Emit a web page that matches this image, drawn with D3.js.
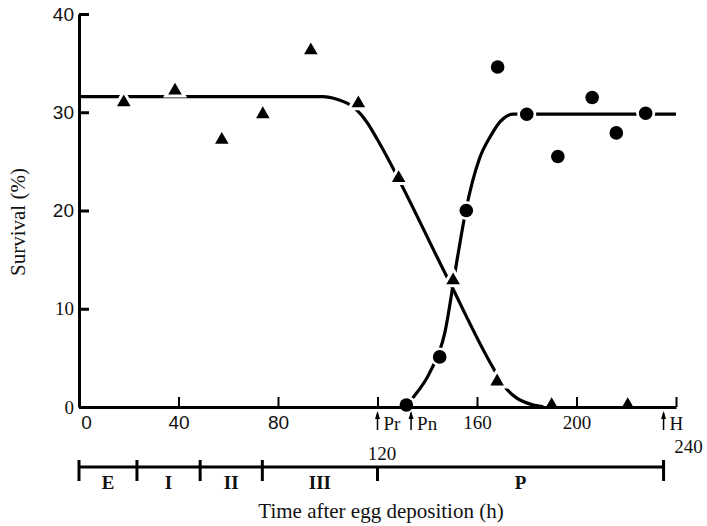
<!DOCTYPE html>
<html>
<head>
<meta charset="utf-8">
<script src="https://cdn.jsdelivr.net/npm/d3@7"></script>
<style>
  body { margin: 0; background: #fff; }
  svg { display: block; }
  text { fill: #111; }
</style>
</head>
<body>
<svg width="707" height="526"></svg>
<script>
// observed survival, triangles and circles
let triangles = [[18, 31], [38.6, 32.2], [57.4, 27.2], [73.9, 29.8], [93.2, 36.3],
  [112.3, 30.9], [128.5, 23.3], [150.4, 12.9], [168.1, 2.6], [190, 0.2], [220.6, 0.2]];
let circles = [[131.6, 0.2], [145, 5.1], [155.7, 20], [168.3, 34.6], [180, 29.8],
  [192.5, 25.5], [206.3, 31.5], [216, 27.9], [227.8, 29.9]];

// fitted curves
let triangleFit = [[0, 31.6], [98, 31.6], [104, 31.3], [111, 30.4], [116, 28.9], [120, 27.2],
  [148, 13.2], [166, 4.2], [171, 2.1], [176, 0.9], [182, 0.25], [188, 0]];
let circleFit = [[131, 0], [134.4, 1], [141, 3.5], [147, 7.5], [152, 15], [155.5, 20],
  [161, 25.3], [165.5, 27.6], [169.5, 29.1], [174.5, 29.8], [240, 29.8]];

let xTicks = [0, 40, 80, 120, 160, 200, 240];
let yTicks = [0, 10, 20, 30, 40];

// developmental stages
let stageBounds = [0, 23.3, 48.7, 73.7, 120, 235];
let stageNames = ['E', 'I', 'II', 'III', 'P'];

// events marked with arrows
let eventTimes = [120, 133.5, 235];
let eventNames = ['Pr', 'Pn', 'H'];

let serif = '"Liberation Serif", "Times New Roman", serif';
let sans = '"Liberation Sans", Arial, sans-serif';

let svg = d3.select('svg');
let x = d3.scaleLinear().domain([0, 240]).range([79, 676]);
let y = d3.scaleLinear().domain([0, 40]).range([407, 14]);

let line = d3.line()
  .x(function(d) { return x(d[0]); })
  .y(function(d) { return y(d[1]); })
  .curve(d3.curveMonotoneX);

function drawCurves() {
  svg.selectAll('path.fit')
    .data([triangleFit, circleFit])
    .join('path')
    .attr('class', 'fit')
    .attr('d', line)
    .attr('fill', 'none')
    .attr('stroke', '#000')
    .attr('stroke-width', 3.2);
}

let tri = d3.symbol().type(d3.symbolTriangle).size(80);

// white halo so that the curve breaks around each point
function drawHalos() {
  let g = svg.append('g');
  g.selectAll('path')
    .data(triangles)
    .join('path')
    .attr('transform', function(d) { return 'translate(' + x(d[0]) + ',' + y(d[1]) + ')'; })
    .attr('d', tri)
    .attr('fill', '#fff')
    .attr('stroke', '#fff')
    .attr('stroke-width', 6);
  g.selectAll('circle')
    .data(circles)
    .join('circle')
    .attr('cx', function(d) { return x(d[0]); })
    .attr('cy', function(d) { return y(d[1]); })
    .attr('r', 9.5)
    .attr('fill', '#fff');
}

function drawAxes() {
  let yAxis = d3.axisLeft(y)
    .tickValues(yTicks)
    .tickSizeInner(-10)
    .tickSizeOuter(0)
    .tickPadding(5);
  let gy = svg.append('g').attr('transform', 'translate(79,0)').call(yAxis);
  gy.select('.domain').attr('stroke-width', 3);
  gy.selectAll('.tick line').attr('stroke-width', 3);
  gy.selectAll('.tick text')
    .style('font-family', function(d) { return d >= 20 ? sans : serif; })
    .style('font-size', '19px')
    .attr('fill', '#111');

  let xAxis = d3.axisBottom(x)
    .tickValues(xTicks)
    .tickSizeInner(-10)
    .tickSizeOuter(0)
    .tickPadding(9);
  let gx = svg.append('g').attr('transform', 'translate(0,407)').call(xAxis);
  gx.select('.domain').attr('stroke-width', 3);
  gx.selectAll('.tick line')
    .attr('stroke-width', 2)
    .attr('display', function(d) { return d === 0 ? 'none' : null; });
  gx.selectAll('.tick text')
    .style('font-family', function(d) { return d <= 80 ? sans : serif; })
    .style('font-size', '19px')
    .attr('fill', '#111')
    .attr('x', function(d) { return d === 120 ? 4 : d === 240 ? 12 : d === 0 ? 7 : 0; })
    .attr('y', function(d) { return d === 120 ? 40 : d === 240 ? 33 : 9; });
}

function drawMarkers() {
  svg.append('g').selectAll('path')
    .data(triangles)
    .join('path')
    .attr('transform', function(d) { return 'translate(' + x(d[0]) + ',' + y(d[1]) + ')'; })
    .attr('d', tri)
    .attr('fill', '#000');
  svg.append('g').selectAll('circle')
    .data(circles)
    .join('circle')
    .attr('cx', function(d) { return x(d[0]); })
    .attr('cy', function(d) { return y(d[1]); })
    .attr('r', 6.8)
    .attr('fill', '#000');
}

function drawEvents() {
  let g = svg.append('g').selectAll('g')
    .data(eventTimes)
    .join('g')
    .attr('transform', function(d) { return 'translate(' + x(d) + ',0)'; });
  g.append('line')
    .attr('y1', 413).attr('y2', 430)
    .attr('stroke', '#000').attr('stroke-width', 1.5);
  g.append('path')
    .attr('d', 'M0,411L-2.5,419L2.5,419Z')
    .attr('fill', '#000');
  g.append('text')
    .attr('x', 6)
    .attr('y', 430)
    .style('font-family', serif)
    .style('font-size', '19px')
    .text(function(d, i) { return eventNames[i]; });
}

function drawStages() {
  let yb = 467;
  let g = svg.append('g');
  g.append('line')
    .attr('x1', x(stageBounds[0])).attr('x2', x(stageBounds[stageBounds.length - 1]))
    .attr('y1', yb).attr('y2', yb)
    .attr('stroke', '#000').attr('stroke-width', 3);
  g.selectAll('line.b')
    .data(stageBounds)
    .join('line')
    .attr('class', 'b')
    .attr('x1', function(d) { return x(d); }).attr('x2', function(d) { return x(d); })
    .attr('y1', function(d) { return d === 120 ? yb : yb - 7; })
    .attr('y2', yb + 14)
    .attr('stroke', '#000').attr('stroke-width', 3);
  g.selectAll('text')
    .data(stageNames)
    .join('text')
    .attr('x', function(d, i) { return x((stageBounds[i] + stageBounds[i + 1]) / 2); })
    .attr('y', 489)
    .attr('text-anchor', 'middle')
    .style('font-family', serif)
    .style('font-size', '19px')
    .style('font-weight', 'bold')
    .text(function(d) { return d; });
}

function drawTitles() {
  svg.append('text')
    .attr('x', 381).attr('y', 518)
    .attr('text-anchor', 'middle')
    .style('font-family', serif)
    .style('font-size', '21px')
    .text('Time after egg deposition (h)');
  svg.append('text')
    .attr('transform', 'translate(25,222) rotate(-90)')
    .attr('text-anchor', 'middle')
    .style('font-family', serif)
    .style('font-size', '21px')
    .text('Survival (%)');
}

drawCurves();
drawHalos();
drawAxes();
drawMarkers();
drawEvents();
drawStages();
drawTitles();
</script>
</body>
</html>
